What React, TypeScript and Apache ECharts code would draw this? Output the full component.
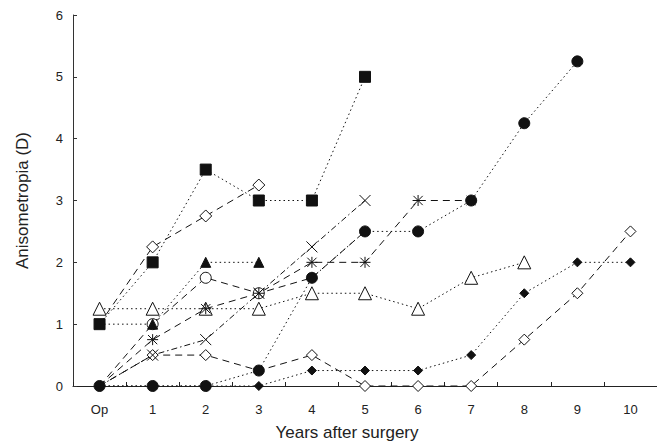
import React, { useEffect, useRef } from "react";
import * as echarts from "echarts";

const years = ["Op", "1", "2", "3", "4", "5", "6", "7", "8", "9", "10"];
const yTicks = [0, 1, 2, 3, 4, 5, 6];

const filledSquare = [1, 2, 3.5, 3, 3, 5];
const openDiamondA = [1, 2.25, 2.75, 3.25];
const filledTriangle = [1, 1, 2, 2];
const openTriangle = [1.25, 1.25, 1.25, 1.25, 1.5, 1.5, 1.25, 1.75, 2];
const openCircle = [0, 1, 1.75, 1.5, 1.75, 2.5];
const asterisk = [0, 0.75, 1.25, 1.5, 2, 2, 3, 3];
const cross = [0, 0.5, 0.75, 1.5, 2.25, 3];
const openDiamondB = [0, 0.5, 0.5, 0.25, 0.5, 0, 0, 0, 0.75, 1.5, 2.5];
const filledDiamond = [0, 0, 0, 0, 0.25, 0.25, 0.25, 0.5, 1.5, 2, 2];
const filledCircle = [0, 0, 0, 0.25, 1.75, 2.5, 2.5, 3, 4.25, 5.25];

// indices whose markers are hidden behind other markers in the reference
const hiddenOpenDiamondA = [0];
const hiddenFilledTriangle = [0];
const hiddenOpenCircle = [0, 4, 5];
const hiddenAsterisk = [0];
const hiddenCross = [0];
const hiddenOpenDiamondB = [0, 3];
const hiddenFilledDiamond = [0, 1, 2];

const DOTTED = [1.5, 3];
const DASHED = [7, 5];
const DASHDOT = [6, 3, 1.5, 3];

const ASTERISK_PATH = "path://M5 0L5 10M0.8 0.8L9.2 9.2M9.2 0.8L0.8 9.2M0 5L10 5";
const CROSS_PATH = "path://M0 0L10 10M10 0L0 10";

function mk(
  name: string,
  values: number[],
  hidden: number[],
  symbol: string,
  size: number | number[],
  fill: string,
  dash: number[]
) {
  return {
    name,
    type: "line",
    data: values.map((v, i) =>
      hidden.indexOf(i) >= 0 ? { value: v, symbol: "none" } : v
    ),
    symbol,
    symbolSize: size,
    showAllSymbol: true,
    itemStyle: { color: fill, borderColor: "#111", borderWidth: 1 },
    lineStyle: { color: "#111", width: 1, type: dash },
    emphasis: { disabled: true },
  };
}

export default function App() {
  const ref = useRef<HTMLDivElement>(null);
  useEffect(() => {
    if (!ref.current) return;
    const chart = echarts.init(ref.current, null, { renderer: "svg" });
    const font = "Liberation Sans";
    chart.setOption({
      animation: false,
      backgroundColor: "#fff",
      grid: { left: 73, right: 0, top: 15, bottom: 56, outerBoundsMode: "none" },
      xAxis: {
        type: "category",
        data: years,
        boundaryGap: true,
        name: "Years after surgery",
        nameLocation: "middle",
        nameGap: 38,
        nameTextStyle: {
          fontFamily: font,
          fontSize: 17,
          lineHeight: 17,
          color: "#222",
          padding: [0, 36, 0, 0],
        },
        axisLine: { show: true, lineStyle: { color: "#222", width: 1 } },
        axisTick: { show: true, inside: true, length: 4, lineStyle: { color: "#222" } },
        axisLabel: { margin: 17, fontFamily: font, fontSize: 13, color: "#222" },
        splitLine: { show: false },
      },
      yAxis: {
        type: "value",
        min: yTicks[0],
        max: yTicks[yTicks.length - 1],
        interval: 1,
        name: "Anisometropia (D)",
        nameLocation: "middle",
        nameGap: 42,
        nameTextStyle: { fontFamily: font, fontSize: 17, color: "#222" },
        axisLine: { show: true, lineStyle: { color: "#333", width: 1 } },
        axisTick: { show: true, inside: true, length: 4, lineStyle: { color: "#333" } },
        axisLabel: { margin: 10, fontFamily: font, fontSize: 13, color: "#222" },
        splitLine: { show: false },
      },
      series: [
        mk("open triangle", openTriangle, [], "triangle", 13, "#fff", DOTTED),
        mk("open diamond A", openDiamondA, hiddenOpenDiamondA, "diamond", 12, "#fff", DASHED),
        mk("open circle", openCircle, hiddenOpenCircle, "circle", 11, "#fff", DASHED),
        mk("filled triangle", filledTriangle, hiddenFilledTriangle, "triangle", 10, "#111", DOTTED),
        mk("asterisk", asterisk, hiddenAsterisk, ASTERISK_PATH, 11, "#111", DASHED),
        mk("open diamond B", openDiamondB, hiddenOpenDiamondB, "diamond", 11, "#fff", DASHED),
        mk("cross", cross, hiddenCross, CROSS_PATH, 11, "#111", DASHDOT),
        mk("filled diamond", filledDiamond, hiddenFilledDiamond, "diamond", 9, "#111", DOTTED),
        mk("filled square", filledSquare, [], "rect", 11, "#111", DOTTED),
        mk("filled circle", filledCircle, [], "circle", 11, "#111", DOTTED),
      ],
    });
    return () => chart.dispose();
  }, []);
  return (
    <div
      ref={ref}
      style={{ position: "fixed", left: 0, top: 0, width: 657, height: 442 }}
    />
  );
}
